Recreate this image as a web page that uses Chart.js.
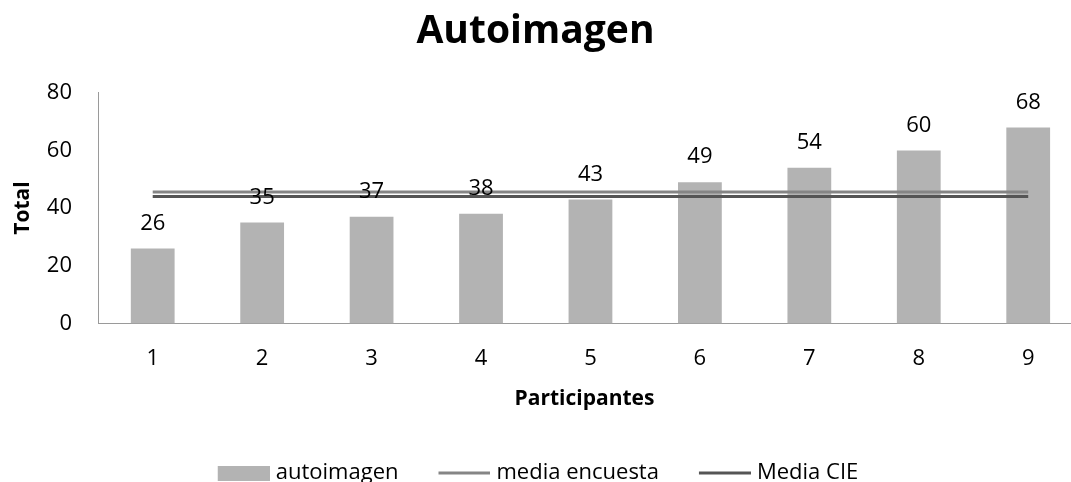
<!DOCTYPE html>
<html>
<head>
<meta charset="utf-8">
<title>Autoimagen</title>
<script src="https://cdn.jsdelivr.net/npm/chart.js@4.4.1/dist/chart.umd.min.js"></script>
<style>
  html, body { margin: 0; padding: 0; background: #fff; overflow: hidden; }
  #wrap { width: 1071px; height: 482px; }
</style>
</head>
<body>
<div id="wrap"><canvas id="grafico" width="1071" height="482"></canvas></div>
<script>
// datos
const participantes = [1, 2, 3, 4, 5, 6, 7, 8, 9]
const autoimagen = [26, 35, 37, 38, 43, 49, 54, 60, 68]
const mediaEncuesta = [45.6, 45.6, 45.6, 45.6, 45.6, 45.6, 45.6, 45.6, 45.6]
const mediaCIE = [44, 44, 44, 44, 44, 44, 44, 44, 44]
const ticksY = [0, 20, 40, 60, 80]

const fuente = "'Open Sans', 'DejaVu Sans', sans-serif"
const grisBarra = '#b3b3b3'
const grisEncuesta = '#858585'
const grisCIE = '#555555'

function puntos(valores) {
    return participantes.map((p, i) => ({ x: p, y: valores[i] }))
}

// muestras de la leyenda (rectangulo y lineas)
function muestra(color, alto) {
    let c = document.createElement('canvas')
    c.width = 62
    c.height = 15
    let g = c.getContext('2d')
    g.fillStyle = color
    g.fillRect(10, (15 - alto) / 2, 52, alto)
    return c
}
const muestras = [muestra(grisBarra, 15), muestra(grisEncuesta, 3), muestra(grisCIE, 3)]

// numeros encima de las barras
const etiquetas = {
    id: 'etiquetas',
    afterDatasetsDraw(chart) {
        let ctx = chart.ctx
        let meta = chart.getDatasetMeta(0)
        ctx.save()
        ctx.font = '22px ' + fuente
        ctx.fillStyle = '#000'
        ctx.textAlign = 'center'
        ctx.textBaseline = 'middle'
        meta.data.forEach((barra, i) => {
            ctx.fillText(String(autoimagen[i]), barra.x, barra.y - 25)
        })
        ctx.restore()
    }
}

var ctx = document.getElementById('grafico').getContext('2d')
var chart = new Chart(ctx, {
    data: {
        datasets: [{
            type: 'bar',
            label: 'autoimagen',
            data: puntos(autoimagen),
            backgroundColor: grisBarra,
            categoryPercentage: 0.4,
            barPercentage: 1,
            order: 2
        }, {
            type: 'line',
            label: 'media encuesta',
            data: puntos(mediaEncuesta),
            borderColor: grisEncuesta,
            backgroundColor: grisEncuesta,
            borderWidth: 3,
            pointRadius: 0,
            order: 1
        }, {
            type: 'line',
            label: 'Media CIE',
            data: puntos(mediaCIE),
            borderColor: grisCIE,
            backgroundColor: grisCIE,
            borderWidth: 3,
            pointRadius: 0,
            order: 0
        }]
    },
    options: {
        responsive: false,
        animation: false,
        devicePixelRatio: 1,
        layout: { padding: { left: 0, right: 0, top: 0, bottom: -12 } },
        scales: {
            x: {
                type: 'linear',
                offset: false,
                min: 0.5,
                max: 9.391,
                afterBuildTicks: (scale) => {
                    scale.ticks = participantes.map(v => ({ value: v }))
                },
                grid: { display: false, drawTicks: false },
                border: { display: true, color: '#9a9a9a', width: 1 },
                ticks: {
                    color: '#000',
                    font: { family: fuente, size: 22 },
                    padding: 22,
                    maxRotation: 0,
                    callback: (v) => String(v)
                },
                title: {
                    display: true,
                    text: 'Participantes',
                    color: '#000',
                    font: { family: fuente, size: 21, weight: 'bold' },
                    padding: { top: -7, bottom: 15 }
                }
            },
            y: {
                min: 0,
                max: 80,
                afterBuildTicks: (scale) => {
                    scale.ticks = ticksY.map(v => ({ value: v }))
                },
                afterFit: (scale) => { scale.width = 98 },
                grid: { display: false, drawTicks: false },
                border: { display: true, color: '#9a9a9a', width: 1 },
                ticks: {
                    color: '#000',
                    font: { family: fuente, size: 22 },
                    padding: 26
                },
                title: {
                    display: true,
                    text: 'Total',
                    color: '#000',
                    font: { family: fuente, size: 21, weight: 'bold' },
                    padding: { top: 10, bottom: 0 }
                }
            }
        },
        plugins: {
            title: {
                display: true,
                text: 'Autoimagen',
                color: '#000',
                font: { family: fuente, size: 39, weight: 'bold' },
                padding: { top: 8, bottom: 38 }
            },
            legend: {
                position: 'bottom',
                labels: {
                    usePointStyle: true,
                    pointStyleWidth: 52,
                    color: '#000',
                    font: { family: fuente, size: 22 },
                    padding: 35,
                    sort: (a, b) => a.datasetIndex - b.datasetIndex,
                    generateLabels: (chart) => {
                        let items = Chart.defaults.plugins.legend.labels.generateLabels(chart)
                        items.forEach(it => { it.pointStyle = muestras[it.datasetIndex] })
                        return items
                    }
                }
            },
            tooltip: { enabled: false }
        }
    },
    plugins: [etiquetas]
})
</script>
</body>
</html>
